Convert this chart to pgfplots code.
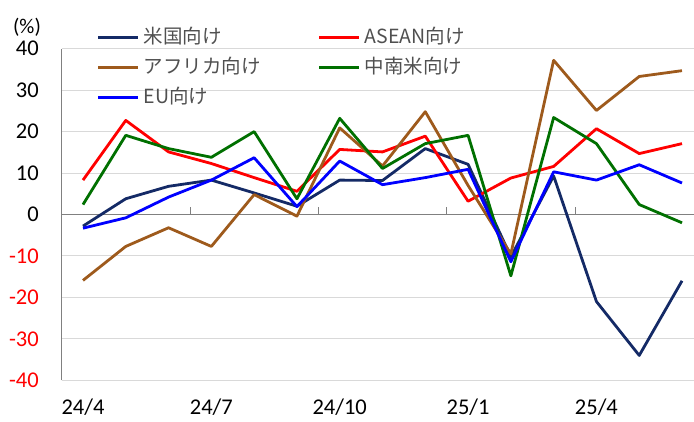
\documentclass[border=0pt]{standalone}
\usepackage{pgfplots}
\pgfplotsset{compat=1.18}
\usepackage{pgfplotstable}
\usepackage{fontspec}
\setmainfont{Carlito}
\newfontfamily\jp{Noto Sans CJK JP}

\definecolor{cnavy}{RGB}{20,42,102}
\definecolor{cred}{RGB}{255,0,0}
\definecolor{cbrown}{RGB}{158,90,28}
\definecolor{cgreen}{RGB}{0,112,0}
\definecolor{cblue}{RGB}{0,0,255}
\definecolor{gridc}{RGB}{217,217,217}
\definecolor{axc}{RGB}{128,128,128}
\definecolor{legtext}{RGB}{80,80,80}

\pgfplotstableread{
x us asean africa latam eu
0 -2.8 8.3 -15.9 2.4 -3.3
1 3.8 22.7 -7.7 19.1 -0.8
2 6.8 15.1 -3.2 15.9 4.2
3 8.3 12.3 -7.7 13.8 8.3
4 5.2 8.9 4.8 20.0 13.7
5 2.0 5.6 -0.4 3.8 1.9
6 8.3 15.7 20.9 23.2 12.9
7 8.2 15.1 11.7 11.1 7.2
8 15.9 18.9 24.8 17.1 8.9
9 12.1 3.2 7.0 19.1 10.9
10 -10.2 8.8 -9.5 -14.8 -11.4
11 9.3 11.6 37.2 23.4 10.3
12 -21.0 20.7 25.1 17.1 8.3
13 -34.0 14.7 33.3 2.4 12.0
14 -16.0 17.1 34.7 -2.0 7.6
}\data

\begin{document}
\begin{tikzpicture}
\begin{axis}[
  scale only axis, width=632.4pt, height=331.6pt,
  xmin=-0.5, xmax=14.28, ymin=-40, ymax=40,
  axis y line*=left, axis x line*=bottom,
  x axis line style={draw=none},
  y axis line style={draw=axc, line width=1.5pt},
  ytick={-40,-30,-20,-10,0,10,20,30,40},
  yticklabels={\textcolor{red}{-40},\textcolor{red}{-30},\textcolor{red}{-20},\textcolor{red}{-10},0,10,20,30,40},
  xtick={0,3,6,9,12},
  xticklabels={24/4,24/7,24/10,25/1,25/4},
  major tick length=0pt,
  ymajorgrids, major grid style={draw=gridc, line width=1pt},
  extra y ticks={0}, extra y tick labels={},
  extra y tick style={grid=major, major grid style={draw=axc, line width=1.6pt}},
  tick label style={font=\fontsize{22.5}{24}\selectfont},
  yticklabel style={inner sep=0pt, anchor=east, xshift=-22.6pt},
  xticklabel style={inner sep=0pt, anchor=north, yshift=-18.5pt},
  legend columns=2,
  legend cell align=left,
  legend image code/.code={\draw[#1] (0pt,0pt) -- (40pt,0pt);},
  legend style={draw=none, fill=none, at={(axis cs:0.327,44.7)}, anchor=north west,
    font=\jp\fontsize{19.5}{21}\selectfont, text=legtext, inner sep=0pt, outer sep=0pt,
    row sep=13pt,
    nodes={inner sep=0pt, text height=14pt, text depth=3pt},
    /tikz/every odd column/.append style={column sep=4pt},
    /tikz/every even column/.append style={column sep=57pt}},
  every axis plot/.append style={line width=2.8pt, line join=round},
]
\addplot[cnavy] table[x=x, y=us] {\data};
\addlegendentry{米国向け}
\addplot[cred] table[x=x, y=asean] {\data};
\addlegendentry{ASEAN向け}
\addplot[cbrown] table[x=x, y=africa] {\data};
\addlegendentry{アフリカ向け}
\addplot[cgreen] table[x=x, y=latam] {\data};
\addlegendentry{中南米向け}
\addplot[cblue] table[x=x, y=eu] {\data};
\addlegendentry{EU向け}
\foreach \t in {2.5,5.5,8.5,11.5} {
  \edef\tmp{\noexpand\draw[axc, line width=0.8pt] (axis cs:\t,0) -- ++(0pt,7.5pt);}\tmp
}
\end{axis}
\node[font=\fontsize{21}{23}\selectfont] at (-34.6pt,352.8pt) {(\%)};
\pgfresetboundingbox
\path[use as bounding box] (-61.6pt,-40.7pt) rectangle (632.4pt,380.3pt);
\end{tikzpicture}
\end{document}
